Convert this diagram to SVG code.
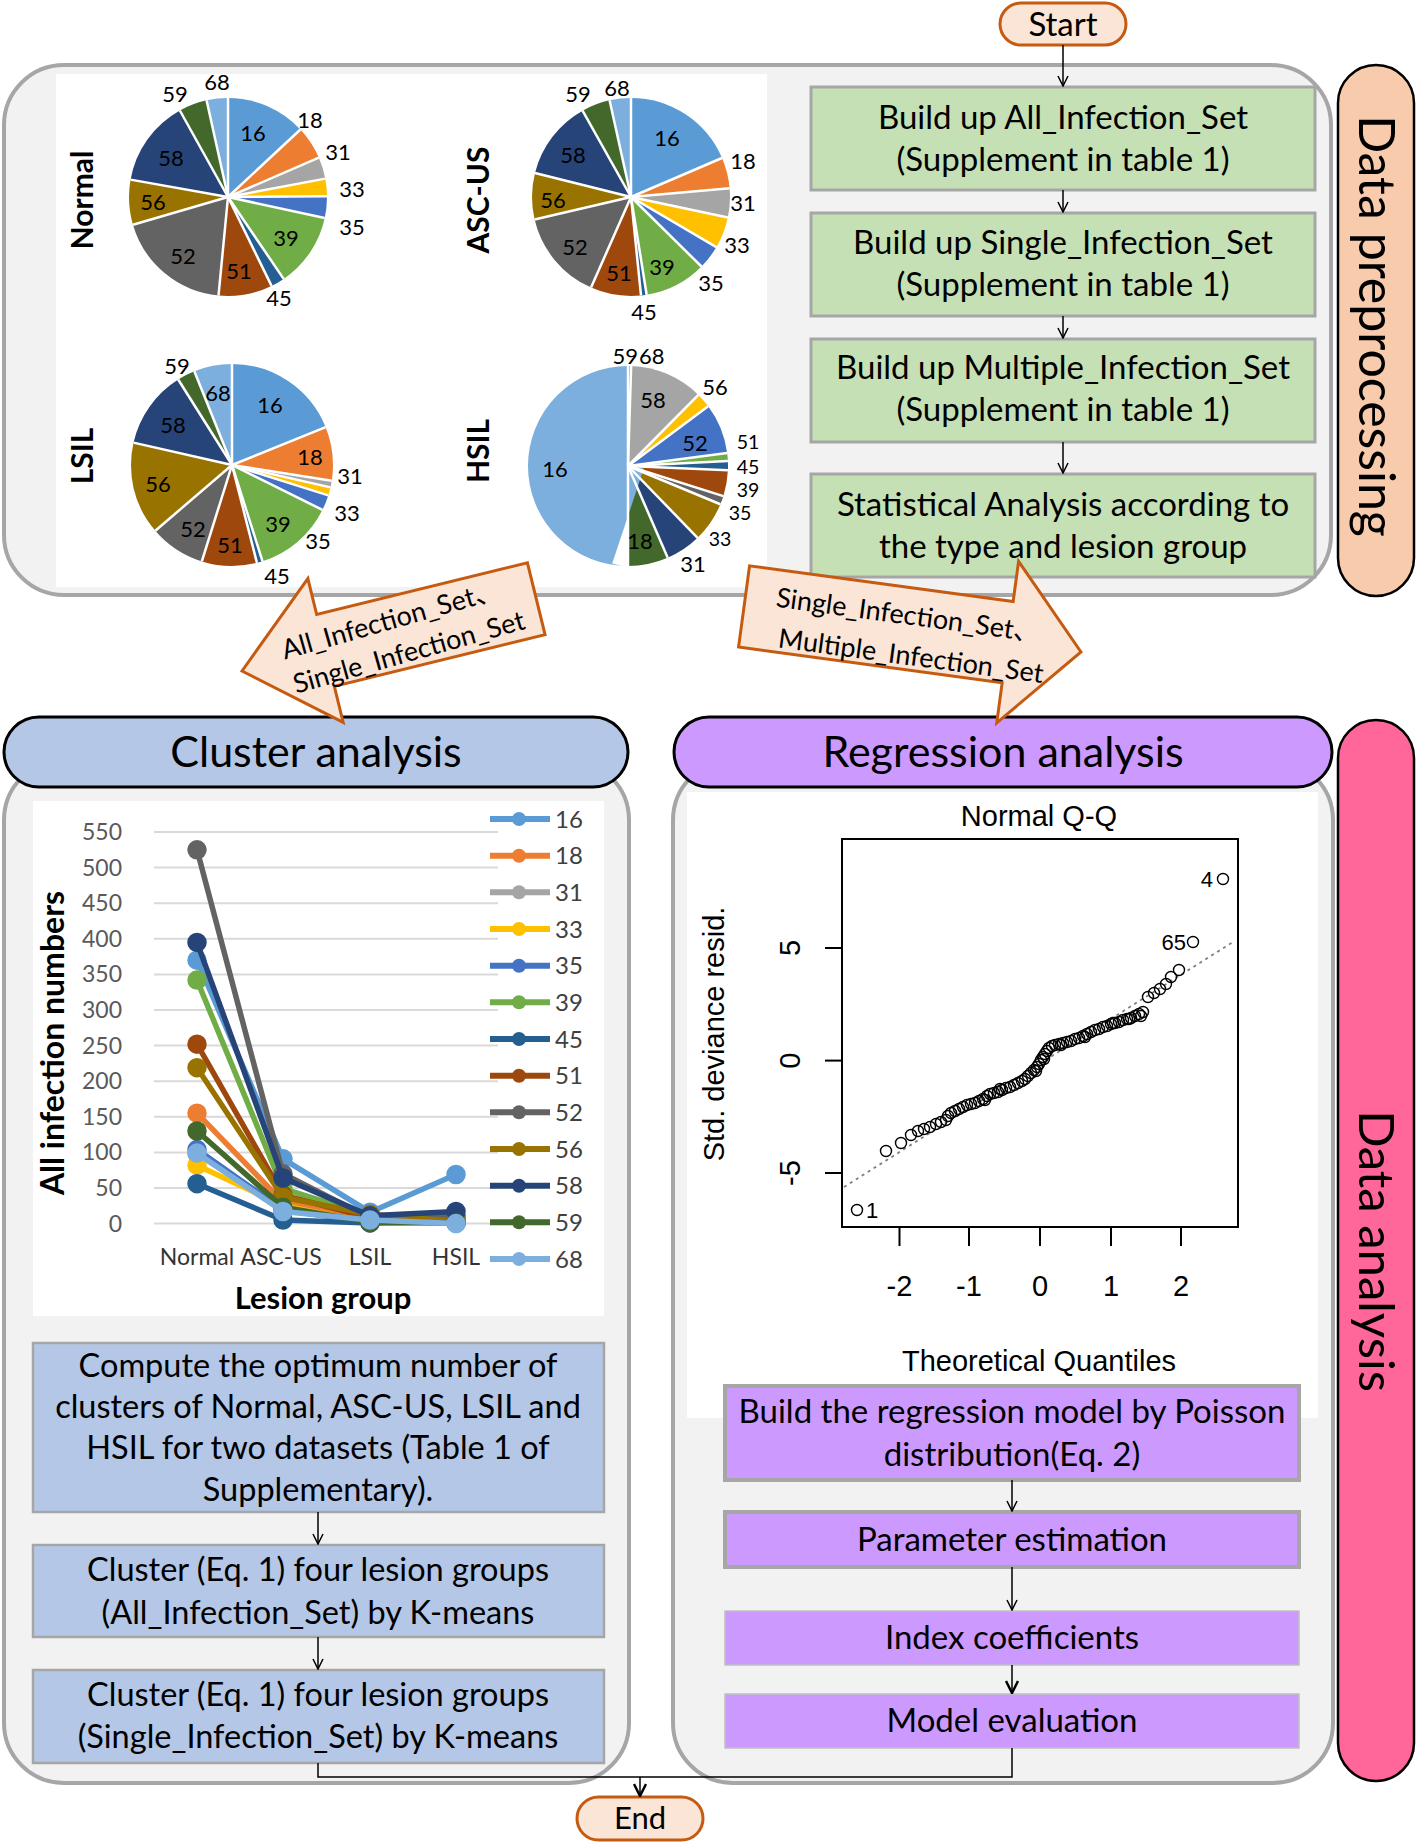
<svg xmlns="http://www.w3.org/2000/svg" width="1418" height="1844" viewBox="0 0 1418 1844">
<defs>
<style>
.t{font-family:Lato,"Noto Sans CJK SC","Noto Sans",sans-serif;fill:#000}
.a{font-family:"Liberation Sans",Arial,sans-serif;fill:#000}
.cont{fill:#f2f2f2;stroke:#a6a6a6;stroke-width:4}
.green{fill:#c5e0b4;stroke:#a6a6a6;stroke-width:3}
.blue{fill:#b4c7e7;stroke:#a6a6a6;stroke-width:2.5}
.purp{fill:#cc99ff;stroke:#a6a6a6;stroke-width:4}
.purp2{fill:#cc99ff;stroke:#c0c0c0;stroke-width:1.5}
.term{fill:#fbe5d6;stroke:#c55a11;stroke-width:3}
.blk{fill:#fbe5d6;stroke:#c55a11;stroke-width:3;stroke-linejoin:miter}
.sep{stroke:#fff;stroke-width:2.5}
.sl{fill:none}
.conn{fill:none;stroke:#000;stroke-width:1.5}
.grid{stroke:#d9d9d9;stroke-width:2}
.pt{fill:none;stroke:#000;stroke-width:1.4}
</style>
<marker id="ah" viewBox="0 0 12 12" markerWidth="12" markerHeight="12" refX="11" refY="6" orient="auto" markerUnits="userSpaceOnUse"><path d="M1,1 L11,6 L1,11" fill="none" stroke="#000" stroke-width="1.5"/></marker>
<marker id="ah2" viewBox="0 0 14 14" markerWidth="14" markerHeight="14" refX="13" refY="7" orient="auto" markerUnits="userSpaceOnUse"><path d="M1,1 L13,7 L1,13" fill="none" stroke="#000" stroke-width="2.5"/></marker>
</defs>
<rect width="1418" height="1844" fill="#fff"/>

<!-- Data preprocessing container -->
<g id="prep-container">
<rect class="cont" x="4" y="65" width="1327" height="530" rx="60"/>
<rect x="56" y="74" width="711" height="513" fill="#fff"/>
</g>

<!-- Pie charts -->
<g id="pie-normal">
<g transform="translate(228,197)" stroke-width="99">
<g transform="rotate(-90)">
<circle class="sl" r="49.5" pathLength="360" stroke="#5b9bd5" stroke-dasharray="47 360" stroke-dashoffset="0"/>
<circle class="sl" r="49.5" pathLength="360" stroke="#ed7d31" stroke-dasharray="19.6 360" stroke-dashoffset="-47"/>
<circle class="sl" r="49.5" pathLength="360" stroke="#a5a5a5" stroke-dasharray="12.7 360" stroke-dashoffset="-66.6"/>
<circle class="sl" r="49.5" pathLength="360" stroke="#ffc000" stroke-dasharray="10.3 360" stroke-dashoffset="-79.3"/>
<circle class="sl" r="49.5" pathLength="360" stroke="#4472c4" stroke-dasharray="12.7 360" stroke-dashoffset="-89.6"/>
<circle class="sl" r="49.5" pathLength="360" stroke="#70ad47" stroke-dasharray="43.5 360" stroke-dashoffset="-102.3"/>
<circle class="sl" r="49.5" pathLength="360" stroke="#255e91" stroke-dasharray="8.1 360" stroke-dashoffset="-145.8"/>
<circle class="sl" r="49.5" pathLength="360" stroke="#9e480e" stroke-dasharray="31.6 360" stroke-dashoffset="-153.9"/>
<circle class="sl" r="49.5" pathLength="360" stroke="#636363" stroke-dasharray="68.2 360" stroke-dashoffset="-185.5"/>
<circle class="sl" r="49.5" pathLength="360" stroke="#997300" stroke-dasharray="26.4 360" stroke-dashoffset="-253.7"/>
<circle class="sl" r="49.5" pathLength="360" stroke="#264478" stroke-dasharray="50.8 360" stroke-dashoffset="-280.1"/>
<circle class="sl" r="49.5" pathLength="360" stroke="#43682b" stroke-dasharray="16.6 360" stroke-dashoffset="-330.9"/>
<circle class="sl" r="49.5" pathLength="360" stroke="#7cafdd" stroke-dasharray="12.5 360" stroke-dashoffset="-347.5"/>
</g>
<g class="sep">
<line y2="-99"/><line y2="-99" transform="rotate(47)"/><line y2="-99" transform="rotate(66.6)"/><line y2="-99" transform="rotate(79.3)"/><line y2="-99" transform="rotate(89.6)"/><line y2="-99" transform="rotate(102.3)"/><line y2="-99" transform="rotate(145.8)"/><line y2="-99" transform="rotate(153.9)"/><line y2="-99" transform="rotate(185.5)"/><line y2="-99" transform="rotate(253.7)"/><line y2="-99" transform="rotate(280.1)"/><line y2="-99" transform="rotate(330.9)"/><line y2="-99" transform="rotate(347.5)"/>
</g>
</g>
<g class="t" font-size="22" text-anchor="middle">
<text x="253" y="141">16</text><text x="310" y="128">18</text><text x="338" y="160">31</text><text x="352" y="197">33</text><text x="352" y="235">35</text><text x="286" y="246">39</text><text x="279" y="306">45</text><text x="239" y="279">51</text><text x="183" y="264">52</text><text x="153" y="210">56</text><text x="171" y="166">58</text><text x="175" y="102">59</text><text x="217" y="90">68</text>
</g>
<text class="t" font-size="30" font-weight="bold" text-anchor="middle" transform="translate(82,200) rotate(-90)" dy="0.35em">Normal</text>
</g>

<g id="pie-ascus">
<g transform="translate(631,197)" stroke-width="99">
<g transform="rotate(-90)">
<circle class="sl" r="49.5" pathLength="360" stroke="#5b9bd5" stroke-dasharray="66.8 360" stroke-dashoffset="0"/>
<circle class="sl" r="49.5" pathLength="360" stroke="#ed7d31" stroke-dasharray="18.1 360" stroke-dashoffset="-66.8"/>
<circle class="sl" r="49.5" pathLength="360" stroke="#a5a5a5" stroke-dasharray="17 360" stroke-dashoffset="-84.9"/>
<circle class="sl" r="49.5" pathLength="360" stroke="#ffc000" stroke-dasharray="18.5 360" stroke-dashoffset="-101.9"/>
<circle class="sl" r="49.5" pathLength="360" stroke="#4472c4" stroke-dasharray="14.2 360" stroke-dashoffset="-120.4"/>
<circle class="sl" r="49.5" pathLength="360" stroke="#70ad47" stroke-dasharray="36.3 360" stroke-dashoffset="-134.6"/>
<circle class="sl" r="49.5" pathLength="360" stroke="#255e91" stroke-dasharray="3.3 360" stroke-dashoffset="-170.9"/>
<circle class="sl" r="49.5" pathLength="360" stroke="#9e480e" stroke-dasharray="29.6 360" stroke-dashoffset="-174.2"/>
<circle class="sl" r="49.5" pathLength="360" stroke="#636363" stroke-dasharray="53.1 360" stroke-dashoffset="-203.8"/>
<circle class="sl" r="49.5" pathLength="360" stroke="#997300" stroke-dasharray="27.1 360" stroke-dashoffset="-256.9"/>
<circle class="sl" r="49.5" pathLength="360" stroke="#264478" stroke-dasharray="46.7 360" stroke-dashoffset="-284"/>
<circle class="sl" r="49.5" pathLength="360" stroke="#43682b" stroke-dasharray="16.8 360" stroke-dashoffset="-330.7"/>
<circle class="sl" r="49.5" pathLength="360" stroke="#7cafdd" stroke-dasharray="12.5 360" stroke-dashoffset="-347.5"/>
</g>
<g class="sep">
<line y2="-99"/><line y2="-99" transform="rotate(66.8)"/><line y2="-99" transform="rotate(84.9)"/><line y2="-99" transform="rotate(101.9)"/><line y2="-99" transform="rotate(120.4)"/><line y2="-99" transform="rotate(134.6)"/><line y2="-99" transform="rotate(170.9)"/><line y2="-99" transform="rotate(174.2)"/><line y2="-99" transform="rotate(203.8)"/><line y2="-99" transform="rotate(256.9)"/><line y2="-99" transform="rotate(284)"/><line y2="-99" transform="rotate(330.7)"/><line y2="-99" transform="rotate(347.5)"/>
</g>
</g>
<g class="t" font-size="22" text-anchor="middle">
<text x="667" y="146">16</text><text x="743" y="169">18</text><text x="743" y="211">31</text><text x="737" y="253">33</text><text x="711" y="291">35</text><text x="662" y="275">39</text><text x="644" y="320">45</text><text x="619" y="281">51</text><text x="575" y="255">52</text><text x="553" y="208">56</text><text x="573" y="163">58</text><text x="578" y="102">59</text><text x="617" y="96">68</text>
</g>
<text class="t" font-size="30" font-weight="bold" text-anchor="middle" transform="translate(478,200) rotate(-90)" dy="0.35em">ASC-US</text>
</g>

<g id="pie-lsil">
<g transform="translate(232,465)" stroke-width="101">
<g transform="rotate(-90)">
<circle class="sl" r="50.5" pathLength="360" stroke="#5b9bd5" stroke-dasharray="68 360" stroke-dashoffset="0"/>
<circle class="sl" r="50.5" pathLength="360" stroke="#ed7d31" stroke-dasharray="31 360" stroke-dashoffset="-68"/>
<circle class="sl" r="50.5" pathLength="360" stroke="#a5a5a5" stroke-dasharray="3.8 360" stroke-dashoffset="-99"/>
<circle class="sl" r="50.5" pathLength="360" stroke="#ffc000" stroke-dasharray="4.7 360" stroke-dashoffset="-102.8"/>
<circle class="sl" r="50.5" pathLength="360" stroke="#4472c4" stroke-dasharray="8.9 360" stroke-dashoffset="-107.5"/>
<circle class="sl" r="50.5" pathLength="360" stroke="#70ad47" stroke-dasharray="46 360" stroke-dashoffset="-116.4"/>
<circle class="sl" r="50.5" pathLength="360" stroke="#255e91" stroke-dasharray="3.3 360" stroke-dashoffset="-162.4"/>
<circle class="sl" r="50.5" pathLength="360" stroke="#9e480e" stroke-dasharray="31.7 360" stroke-dashoffset="-165.7"/>
<circle class="sl" r="50.5" pathLength="360" stroke="#636363" stroke-dasharray="32 360" stroke-dashoffset="-197.4"/>
<circle class="sl" r="50.5" pathLength="360" stroke="#997300" stroke-dasharray="53.4 360" stroke-dashoffset="-229.4"/>
<circle class="sl" r="50.5" pathLength="360" stroke="#264478" stroke-dasharray="45 360" stroke-dashoffset="-282.8"/>
<circle class="sl" r="50.5" pathLength="360" stroke="#43682b" stroke-dasharray="10.3 360" stroke-dashoffset="-327.8"/>
<circle class="sl" r="50.5" pathLength="360" stroke="#7cafdd" stroke-dasharray="21.9 360" stroke-dashoffset="-338.1"/>
</g>
<g class="sep">
<line y2="-101"/><line y2="-101" transform="rotate(68)"/><line y2="-101" transform="rotate(99)"/><line y2="-101" transform="rotate(102.8)"/><line y2="-101" transform="rotate(107.5)"/><line y2="-101" transform="rotate(116.4)"/><line y2="-101" transform="rotate(162.4)"/><line y2="-101" transform="rotate(165.7)"/><line y2="-101" transform="rotate(197.4)"/><line y2="-101" transform="rotate(229.4)"/><line y2="-101" transform="rotate(282.8)"/><line y2="-101" transform="rotate(327.8)"/><line y2="-101" transform="rotate(338.1)"/>
</g>
</g>
<g class="t" font-size="22" text-anchor="middle">
<text x="270" y="413">16</text><text x="310" y="465">18</text><text x="350" y="484">31</text><text x="347" y="521">33</text><text x="318" y="549">35</text><text x="278" y="532">39</text><text x="277" y="584">45</text><text x="230" y="553">51</text><text x="193" y="537">52</text><text x="158" y="492">56</text><text x="173" y="433">58</text><text x="177" y="374">59</text><text x="218" y="401">68</text>
</g>
<text class="t" font-size="30" font-weight="bold" text-anchor="middle" transform="translate(82,456) rotate(-90)" dy="0.35em">LSIL</text>
</g>

<g id="pie-hsil">
<g transform="translate(628,466)" stroke-width="100">
<g transform="rotate(-90)">
<circle class="sl" r="50" pathLength="360" stroke="#ed7d31" stroke-dasharray="1.8 360" stroke-dashoffset="0"/>
<circle class="sl" r="50" pathLength="360" stroke="#a5a5a5" stroke-dasharray="42.9 360" stroke-dashoffset="-1.8"/>
<circle class="sl" r="50" pathLength="360" stroke="#ffc000" stroke-dasharray="8.6 360" stroke-dashoffset="-44.7"/>
<circle class="sl" r="50" pathLength="360" stroke="#4472c4" stroke-dasharray="29.2 360" stroke-dashoffset="-53.3"/>
<circle class="sl" r="50" pathLength="360" stroke="#70ad47" stroke-dasharray="4.6 360" stroke-dashoffset="-82.5"/>
<circle class="sl" r="50" pathLength="360" stroke="#255e91" stroke-dasharray="5.4 360" stroke-dashoffset="-87.1"/>
<circle class="sl" r="50" pathLength="360" stroke="#9e480e" stroke-dasharray="15 360" stroke-dashoffset="-92.5"/>
<circle class="sl" r="50" pathLength="360" stroke="#636363" stroke-dasharray="5 360" stroke-dashoffset="-107.5"/>
<circle class="sl" r="50" pathLength="360" stroke="#997300" stroke-dasharray="23.4 360" stroke-dashoffset="-112.5"/>
<circle class="sl" r="50" pathLength="360" stroke="#264478" stroke-dasharray="20.7 360" stroke-dashoffset="-135.9"/>
<circle class="sl" r="50" pathLength="360" stroke="#43682b" stroke-dasharray="23.4 360" stroke-dashoffset="-156.6"/>
<circle class="sl" r="50" pathLength="360" stroke="#7cafdd" stroke-dasharray="180 360" stroke-dashoffset="-180"/>
</g>
<g class="sep">
<line y2="-100"/><line y2="-100" transform="rotate(1.8)"/><line y2="-100" transform="rotate(44.7)"/><line y2="-100" transform="rotate(53.3)"/><line y2="-100" transform="rotate(82.5)"/><line y2="-100" transform="rotate(87.1)"/><line y2="-100" transform="rotate(92.5)"/><line y2="-100" transform="rotate(107.5)"/><line y2="-100" transform="rotate(112.5)"/><line y2="-100" transform="rotate(135.9)"/><line y2="-100" transform="rotate(156.6)"/><line y2="-100" transform="rotate(180)"/>
</g>
</g>
<g class="t" font-size="22" text-anchor="middle">
<text x="638" y="364" text-anchor="end">59</text><text x="639" y="364" text-anchor="start">68</text><text x="653" y="408">58</text><text x="715" y="395">56</text><text x="695" y="451">52</text><text x="693" y="572">31</text><text x="640" y="549">18</text><text x="555" y="477">16</text>
</g>
<g class="t" font-size="19.5" text-anchor="middle">
<text x="748" y="449">51</text><text x="748" y="474">45</text><text x="748" y="497">39</text><text x="740" y="520">35</text><text x="720" y="546">33</text>
</g>
<text class="t" font-size="30" font-weight="bold" text-anchor="middle" transform="translate(478,451) rotate(-90)" dy="0.35em">HSIL</text>
</g>

<!-- Start -->
<g id="start">
<rect class="term" x="1000" y="3" width="126" height="42" rx="21"/>
<text class="t" x="1063" y="36" font-size="33" text-anchor="middle">Start</text>
</g>

<!-- Green boxes -->
<g id="box-all">
<rect class="green" x="811" y="87" width="504" height="103"/>
<text class="t" font-size="33" text-anchor="middle"><tspan x="1063" y="129">Build up All_Infection_Set</tspan><tspan x="1063" y="171">(Supplement in table 1)</tspan></text>
</g>
<g id="box-single">
<rect class="green" x="811" y="213" width="504" height="103"/>
<text class="t" font-size="33" text-anchor="middle"><tspan x="1063" y="254">Build up Single_Infection_Set</tspan><tspan x="1063" y="296">(Supplement in table 1)</tspan></text>
</g>
<g id="box-multiple">
<rect class="green" x="811" y="339" width="504" height="103"/>
<text class="t" font-size="33" text-anchor="middle"><tspan x="1063" y="379">Build up Multiple_Infection_Set</tspan><tspan x="1063" y="421">(Supplement in table 1)</tspan></text>
</g>
<g id="box-stat">
<rect class="green" x="811" y="474" width="504" height="103"/>
<text class="t" font-size="33" text-anchor="middle"><tspan x="1063" y="516">Statistical Analysis according to</tspan><tspan x="1063" y="558">the type and lesion group</tspan></text>
</g>

<!-- Side labels -->
<g id="label-prep">
<rect x="1338" y="65" width="76" height="531" rx="38" fill="#f8cbad" stroke="#000" stroke-width="2.5"/>
<text class="t" font-size="50" text-anchor="middle" transform="translate(1376,326) rotate(90)" dy="0.35em">Data preprocessing</text>
</g>
<g id="label-analysis">
<rect x="1338" y="720" width="76" height="1061" rx="38" fill="#ff6699" stroke="#000" stroke-width="2.5"/>
<text class="t" font-size="49" text-anchor="middle" transform="translate(1376,1251) rotate(90)" dy="0.35em">Data analysis</text>
</g>

<!-- Cluster analysis section -->
<g id="cluster-container">
<rect class="cont" x="4" y="760" width="625" height="1023" rx="60"/>
<rect x="33" y="801" width="571" height="515" fill="#fff"/>
</g>
<g id="cluster-pill">
<rect x="4" y="717" width="624" height="70" rx="35" fill="#b4c7e7" stroke="#000" stroke-width="3"/>
<text class="t" x="316" y="767" font-size="43" text-anchor="middle">Cluster analysis</text>
</g>

<g id="line-chart">
<g class="grid">
<line x1="154" x2="498" y1="1223.6" y2="1223.6"/><line x1="154" x2="498" y1="1188" y2="1188"/><line x1="154" x2="498" y1="1152.4" y2="1152.4"/><line x1="154" x2="498" y1="1116.8" y2="1116.8"/><line x1="154" x2="498" y1="1081.2" y2="1081.2"/><line x1="154" x2="498" y1="1045.6" y2="1045.6"/><line x1="154" x2="498" y1="1010" y2="1010"/><line x1="154" x2="498" y1="974.4" y2="974.4"/><line x1="154" x2="498" y1="938.8" y2="938.8"/><line x1="154" x2="498" y1="903.2" y2="903.2"/><line x1="154" x2="498" y1="867.6" y2="867.6"/><line x1="154" x2="498" y1="832" y2="832"/>
</g>
<g class="t" font-size="23" text-anchor="end" style="fill:#595959">
<text x="122" y="1231.6">0</text><text x="122" y="1196">50</text><text x="122" y="1160.4">100</text><text x="122" y="1124.8">150</text><text x="122" y="1089.2">200</text><text x="122" y="1053.6">250</text><text x="122" y="1018">300</text><text x="122" y="982.4">350</text><text x="122" y="946.8">400</text><text x="122" y="911.2">450</text><text x="122" y="875.6">500</text><text x="122" y="840">550</text>
</g>
<g class="t" font-size="23" text-anchor="middle" style="fill:#333">
<text x="197" y="1265">Normal</text><text x="281" y="1265">ASC-US</text><text x="370" y="1265">LSIL</text><text x="456" y="1265">HSIL</text>
</g>
<text class="t" x="323" y="1309" font-size="31" font-weight="bold" text-anchor="middle">Lesion group</text>
<text class="t" font-size="32" font-weight="bold" text-anchor="middle" transform="translate(53,1043) rotate(-90)" dy="0.35em">All infection numbers</text>
<g stroke-width="5.5" stroke-linejoin="round">
<g stroke="#5b9bd5" fill="#5b9bd5"><polyline fill="none" points="197,960.2 283,1158.8 370,1212.2 456,1174.5"/><circle cx="197" cy="960.2" r="7"/><circle cx="283" cy="1158.8" r="7"/><circle cx="370" cy="1212.2" r="7"/><circle cx="456" cy="1174.5" r="7"/></g>
<g stroke="#ed7d31" fill="#ed7d31"><polyline fill="none" points="197,1113.2 283,1202.2 370,1218.6 456,1222.9"/><circle cx="197" cy="1113.2" r="7"/><circle cx="283" cy="1202.2" r="7"/><circle cx="370" cy="1218.6" r="7"/><circle cx="456" cy="1222.9" r="7"/></g>
<g stroke="#a5a5a5" fill="#a5a5a5"><polyline fill="none" points="197,1153.8 283,1207.2 370,1222.9 456,1217.9"/><circle cx="197" cy="1153.8" r="7"/><circle cx="283" cy="1207.2" r="7"/><circle cx="370" cy="1222.9" r="7"/><circle cx="456" cy="1217.9" r="7"/></g>
<g stroke="#ffc000" fill="#ffc000"><polyline fill="none" points="197,1165.2 283,1205.8 370,1222.9 456,1217.2"/><circle cx="197" cy="1165.2" r="7"/><circle cx="283" cy="1205.8" r="7"/><circle cx="370" cy="1222.9" r="7"/><circle cx="456" cy="1217.2" r="7"/></g>
<g stroke="#4472c4" fill="#4472c4"><polyline fill="none" points="197,1149.6 283,1210.1 370,1222.2 456,1222.2"/><circle cx="197" cy="1149.6" r="7"/><circle cx="283" cy="1210.1" r="7"/><circle cx="370" cy="1222.2" r="7"/><circle cx="456" cy="1222.2" r="7"/></g>
<g stroke="#70ad47" fill="#70ad47"><polyline fill="none" points="197,980.1 283,1188.7 370,1215.8 456,1219.3"/><circle cx="197" cy="980.1" r="7"/><circle cx="283" cy="1188.7" r="7"/><circle cx="370" cy="1215.8" r="7"/><circle cx="456" cy="1219.3" r="7"/></g>
<g stroke="#255e91" fill="#255e91"><polyline fill="none" points="197,1183.7 283,1220 370,1222.9 456,1222.2"/><circle cx="197" cy="1183.7" r="7"/><circle cx="283" cy="1220" r="7"/><circle cx="370" cy="1222.9" r="7"/><circle cx="456" cy="1222.2" r="7"/></g>
<g stroke="#9e480e" fill="#9e480e"><polyline fill="none" points="197,1044.2 283,1195.1 370,1217.9 456,1222.2"/><circle cx="197" cy="1044.2" r="7"/><circle cx="283" cy="1195.1" r="7"/><circle cx="370" cy="1217.9" r="7"/><circle cx="456" cy="1222.2" r="7"/></g>
<g stroke="#636363" fill="#636363"><polyline fill="none" points="197,849.8 283,1173.8 370,1217.9 456,1215.8"/><circle cx="197" cy="849.8" r="7"/><circle cx="283" cy="1173.8" r="7"/><circle cx="370" cy="1217.9" r="7"/><circle cx="456" cy="1215.8" r="7"/></g>
<g stroke="#997300" fill="#997300"><polyline fill="none" points="197,1067.7 283,1197.3 370,1214.3 456,1221.5"/><circle cx="197" cy="1067.7" r="7"/><circle cx="283" cy="1197.3" r="7"/><circle cx="370" cy="1214.3" r="7"/><circle cx="456" cy="1221.5" r="7"/></g>
<g stroke="#264478" fill="#264478"><polyline fill="none" points="197,942.4 283,1178 370,1215.8 456,1211.5"/><circle cx="197" cy="942.4" r="7"/><circle cx="283" cy="1178" r="7"/><circle cx="370" cy="1215.8" r="7"/><circle cx="456" cy="1211.5" r="7"/></g>
<g stroke="#43682b" fill="#43682b"><polyline fill="none" points="197,1131 283,1207.2 370,1222.2 456,1222.9"/><circle cx="197" cy="1131" r="7"/><circle cx="283" cy="1207.2" r="7"/><circle cx="370" cy="1222.2" r="7"/><circle cx="456" cy="1222.9" r="7"/></g>
<g stroke="#7cafdd" fill="#7cafdd"><polyline fill="none" points="197,1153.1 283,1211.5 370,1220 456,1223.6"/><circle cx="197" cy="1153.1" r="7"/><circle cx="283" cy="1211.5" r="7"/><circle cx="370" cy="1220" r="7"/><circle cx="456" cy="1223.6" r="7"/></g>
</g>
<g id="legend" stroke-width="6">
<g stroke="#5b9bd5" fill="#5b9bd5"><line x1="490" x2="550" y1="819" y2="819"/><circle cx="519" cy="819" r="7" stroke="none"/></g>
<g stroke="#ed7d31" fill="#ed7d31"><line x1="490" x2="550" y1="855.7" y2="855.7"/><circle cx="519" cy="855.7" r="7" stroke="none"/></g>
<g stroke="#a5a5a5" fill="#a5a5a5"><line x1="490" x2="550" y1="892.3" y2="892.3"/><circle cx="519" cy="892.3" r="7" stroke="none"/></g>
<g stroke="#ffc000" fill="#ffc000"><line x1="490" x2="550" y1="929" y2="929"/><circle cx="519" cy="929" r="7" stroke="none"/></g>
<g stroke="#4472c4" fill="#4472c4"><line x1="490" x2="550" y1="965.7" y2="965.7"/><circle cx="519" cy="965.7" r="7" stroke="none"/></g>
<g stroke="#70ad47" fill="#70ad47"><line x1="490" x2="550" y1="1002.3" y2="1002.3"/><circle cx="519" cy="1002.3" r="7" stroke="none"/></g>
<g stroke="#255e91" fill="#255e91"><line x1="490" x2="550" y1="1039" y2="1039"/><circle cx="519" cy="1039" r="7" stroke="none"/></g>
<g stroke="#9e480e" fill="#9e480e"><line x1="490" x2="550" y1="1075.7" y2="1075.7"/><circle cx="519" cy="1075.7" r="7" stroke="none"/></g>
<g stroke="#636363" fill="#636363"><line x1="490" x2="550" y1="1112.3" y2="1112.3"/><circle cx="519" cy="1112.3" r="7" stroke="none"/></g>
<g stroke="#997300" fill="#997300"><line x1="490" x2="550" y1="1149" y2="1149"/><circle cx="519" cy="1149" r="7" stroke="none"/></g>
<g stroke="#264478" fill="#264478"><line x1="490" x2="550" y1="1185.7" y2="1185.7"/><circle cx="519" cy="1185.7" r="7" stroke="none"/></g>
<g stroke="#43682b" fill="#43682b"><line x1="490" x2="550" y1="1222.3" y2="1222.3"/><circle cx="519" cy="1222.3" r="7" stroke="none"/></g>
<g stroke="#7cafdd" fill="#7cafdd"><line x1="490" x2="550" y1="1259" y2="1259"/><circle cx="519" cy="1259" r="7" stroke="none"/></g>
<g class="t" font-size="24" stroke="none" style="fill:#404040">
<text x="555" y="827.5">16</text><text x="555" y="864.2">18</text><text x="555" y="900.8">31</text><text x="555" y="937.5">33</text><text x="555" y="974.2">35</text><text x="555" y="1010.8">39</text><text x="555" y="1047.5">45</text><text x="555" y="1084.2">51</text><text x="555" y="1120.8">52</text><text x="555" y="1157.5">56</text><text x="555" y="1194.2">58</text><text x="555" y="1230.8">59</text><text x="555" y="1267.5">68</text>
</g>
</g>
</g>

<g id="box-compute">
<rect class="blue" x="33" y="1343" width="571" height="169"/>
<text class="t" font-size="32.5" text-anchor="middle"><tspan x="318" y="1377">Compute the optimum number of</tspan><tspan x="318" y="1418">clusters of Normal, ASC-US, LSIL and</tspan><tspan x="318" y="1459">HSIL for two datasets (Table 1 of</tspan><tspan x="318" y="1501">Supplementary).</tspan></text>
</g>
<g id="box-cluster-all">
<rect class="blue" x="33" y="1545" width="571" height="92"/>
<text class="t" font-size="32.5" text-anchor="middle"><tspan x="318" y="1581">Cluster (Eq. 1) four lesion groups</tspan><tspan x="318" y="1624">(All_Infection_Set) by K-means</tspan></text>
</g>
<g id="box-cluster-single">
<rect class="blue" x="33" y="1670" width="571" height="93"/>
<text class="t" font-size="32.5" text-anchor="middle"><tspan x="318" y="1706">Cluster (Eq. 1) four lesion groups</tspan><tspan x="318" y="1748">(Single_Infection_Set) by K-means</tspan></text>
</g>

<!-- Regression analysis section -->
<g id="regression-container">
<rect class="cont" x="673" y="760" width="660" height="1023" rx="60"/>
<rect x="687" y="792" width="631" height="626" fill="#fff"/>
</g>
<g id="regression-pill">
<rect x="674" y="717" width="658" height="70" rx="35" fill="#cc99ff" stroke="#000" stroke-width="3"/>
<text class="t" x="1003" y="767" font-size="43" text-anchor="middle">Regression analysis</text>
</g>

<g id="qq-plot">
<text class="a" x="1039" y="826" font-size="29" text-anchor="middle">Normal Q-Q</text>
<rect x="842" y="839" width="396" height="388" fill="none" stroke="#000" stroke-width="2"/>
<g stroke="#000" stroke-width="2">
<line x1="899.5" x2="899.5" y1="1227" y2="1246"/><line x1="969" x2="969" y1="1227" y2="1246"/><line x1="1040" x2="1040" y1="1227" y2="1246"/><line x1="1111" x2="1111" y1="1227" y2="1246"/><line x1="1181" x2="1181" y1="1227" y2="1246"/>
<line x1="825" x2="842" y1="948" y2="948"/><line x1="825" x2="842" y1="1060.6" y2="1060.6"/><line x1="825" x2="842" y1="1173" y2="1173"/>
</g>
<g class="a" font-size="29" text-anchor="middle">
<text x="899.5" y="1296">-2</text><text x="969" y="1296">-1</text><text x="1040" y="1296">0</text><text x="1111" y="1296">1</text><text x="1181" y="1296">2</text>
<text transform="translate(790,948) rotate(-90)" dy="0.35em">5</text>
<text transform="translate(790,1060.6) rotate(-90)" dy="0.35em">0</text>
<text transform="translate(790,1173) rotate(-90)" dy="0.35em">-5</text>
</g>
<text class="a" font-size="29" text-anchor="middle" transform="translate(714,1034) rotate(-90)" dy="0.35em">Std. deviance resid.</text>
<text class="a" x="1039" y="1371" font-size="29" text-anchor="middle">Theoretical Quantiles</text>
<line x1="844" y1="1187" x2="1233" y2="942" stroke="#7f7f7f" stroke-width="1.8" stroke-dasharray="3 4"/>
<g class="pt">
<circle cx="886" cy="1151" r="5.5"/><circle cx="901" cy="1143" r="5.5"/><circle cx="911" cy="1135" r="5.5"/><circle cx="918" cy="1131" r="5.5"/><circle cx="924" cy="1129" r="5.5"/><circle cx="930" cy="1127" r="5.5"/><circle cx="936" cy="1124" r="5.5"/><circle cx="941" cy="1122" r="5.5"/><circle cx="946" cy="1120" r="5.5"/><circle cx="948" cy="1116" r="5.5"/>
<circle cx="951" cy="1113" r="5.5"/><circle cx="955" cy="1111" r="5.5"/><circle cx="959" cy="1109" r="5.5"/><circle cx="963" cy="1107" r="5.5"/><circle cx="967" cy="1105" r="5.5"/><circle cx="971" cy="1104" r="5.5"/><circle cx="975" cy="1103" r="5.5"/><circle cx="979" cy="1101" r="5.5"/><circle cx="983" cy="1099" r="5.5"/><circle cx="985" cy="1100" r="5.5"/>
<circle cx="987" cy="1096" r="5.5"/><circle cx="990" cy="1094" r="5.5"/><circle cx="994" cy="1093" r="5.5"/><circle cx="998" cy="1092" r="5.5"/><circle cx="1000" cy="1089" r="5.5"/><circle cx="1002" cy="1090" r="5.5"/><circle cx="1006" cy="1088" r="5.5"/><circle cx="1010" cy="1087" r="5.5"/><circle cx="1014" cy="1085" r="5.5"/><circle cx="1018" cy="1083" r="5.5"/>
<circle cx="1022" cy="1081" r="5.5"/><circle cx="1025" cy="1079" r="5.5"/><circle cx="1028" cy="1076" r="5.5"/><circle cx="1031" cy="1073" r="5.5"/><circle cx="1034" cy="1070" r="5.5"/><circle cx="1036" cy="1071" r="5.5"/><circle cx="1037" cy="1067" r="5.5"/><circle cx="1039" cy="1064" r="5.5"/><circle cx="1041" cy="1060" r="5.5"/><circle cx="1043" cy="1057" r="5.5"/>
<circle cx="1044" cy="1059" r="5.5"/><circle cx="1045" cy="1054" r="5.5"/><circle cx="1047" cy="1051" r="5.5"/><circle cx="1049" cy="1048" r="5.5"/><circle cx="1052" cy="1046" r="5.5"/><circle cx="1055" cy="1045" r="5.5"/><circle cx="1059" cy="1044" r="5.5"/><circle cx="1061" cy="1045" r="5.5"/><circle cx="1063" cy="1043" r="5.5"/><circle cx="1067" cy="1042" r="5.5"/>
<circle cx="1071" cy="1041" r="5.5"/><circle cx="1075" cy="1039" r="5.5"/><circle cx="1079" cy="1038" r="5.5"/><circle cx="1083" cy="1036" r="5.5"/><circle cx="1085" cy="1037" r="5.5"/><circle cx="1087" cy="1034" r="5.5"/><circle cx="1091" cy="1032" r="5.5"/><circle cx="1095" cy="1030" r="5.5"/><circle cx="1099" cy="1029" r="5.5"/><circle cx="1103" cy="1027" r="5.5"/>
<circle cx="1107" cy="1026" r="5.5"/><circle cx="1111" cy="1024" r="5.5"/><circle cx="1113" cy="1023" r="5.5"/><circle cx="1115" cy="1023" r="5.5"/><circle cx="1119" cy="1022" r="5.5"/><circle cx="1123" cy="1020" r="5.5"/><circle cx="1127" cy="1019" r="5.5"/><circle cx="1129" cy="1019" r="5.5"/><circle cx="1131" cy="1018" r="5.5"/><circle cx="1135" cy="1016" r="5.5"/>
<circle cx="1139" cy="1014" r="5.5"/><circle cx="1141" cy="1016" r="5.5"/><circle cx="1143" cy="1012" r="5.5"/><circle cx="1148" cy="997" r="5.5"/><circle cx="1154" cy="993" r="5.5"/><circle cx="1160" cy="989" r="5.5"/><circle cx="1166" cy="984" r="5.5"/><circle cx="1171" cy="977" r="5.5"/><circle cx="1179" cy="970" r="5.5"/>
<circle cx="857" cy="1210" r="5.5"/><circle cx="1193" cy="942" r="5.5"/><circle cx="1223" cy="879" r="5.5"/>
</g>
<g class="a" font-size="22">
<text x="866" y="1218">1</text>
<text x="1213" y="887" text-anchor="end">4</text>
<text x="1186" y="950" text-anchor="end">65</text>
</g>
</g>

<g id="box-poisson">
<rect class="purp" x="725" y="1386" width="574" height="94"/>
<text class="t" font-size="33" text-anchor="middle"><tspan x="1012" y="1423">Build the regression model by Poisson</tspan><tspan x="1012" y="1466">distribution(Eq. 2)</tspan></text>
</g>
<g id="box-param">
<rect class="purp" x="725" y="1512" width="574" height="55"/>
<text class="t" x="1012" y="1551" font-size="33" text-anchor="middle">Parameter estimation</text>
</g>
<g id="box-index">
<rect class="purp2" x="725" y="1611" width="574" height="54"/>
<text class="t" x="1012" y="1649" font-size="33" text-anchor="middle">Index coefficients</text>
</g>
<g id="box-eval">
<rect class="purp2" x="725" y="1694" width="574" height="54"/>
<text class="t" x="1012" y="1732" font-size="33" text-anchor="middle">Model evaluation</text>
</g>

<!-- End -->
<g id="end">
<rect class="term" x="577" y="1797" width="126" height="43" rx="21.5"/>
<text class="t" x="640" y="1829" font-size="31" text-anchor="middle">End</text>
</g>

<!-- Connectors -->
<g id="connectors">
<line class="conn" x1="1063" y1="45" x2="1063" y2="86" marker-end="url(#ah)"/>
<line class="conn" x1="1063" y1="190" x2="1063" y2="212" marker-end="url(#ah)"/>
<line class="conn" x1="1063" y1="316" x2="1063" y2="338" marker-end="url(#ah)"/>
<line class="conn" x1="1063" y1="442" x2="1063" y2="473" marker-end="url(#ah)"/>
<line class="conn" x1="318" y1="1512" x2="318" y2="1544" marker-end="url(#ah)"/>
<line class="conn" x1="318" y1="1637" x2="318" y2="1669" marker-end="url(#ah)"/>
<line class="conn" x1="1012" y1="1480" x2="1012" y2="1511" marker-end="url(#ah)"/>
<line class="conn" x1="1012" y1="1567" x2="1012" y2="1610" marker-end="url(#ah)"/>
<line class="conn" x1="1012" y1="1665" x2="1012" y2="1693" stroke-width="2.2" marker-end="url(#ah2)"/>
<polyline class="conn" stroke-width="3" points="318,1763 318,1777 1012,1777 1012,1748"/>
<line class="conn" x1="640" y1="1777" x2="640" y2="1796" stroke-width="2.5" marker-end="url(#ah2)"/>
</g>

<!-- Block arrows -->
<g id="arrow-to-cluster" transform="translate(242,671) rotate(-13.8)">
<polygon class="blk" points="0,0 86,-74 86,-37 303,-37 303,37 86,37 86,74"/>
<g class="t" font-size="27" text-anchor="middle" transform="rotate(-2 160 8)">
<text x="158" y="-5">All_Infection_Set、</text>
<text x="166" y="31">Single_Infection_Set</text>
</g>
</g>
<g id="arrow-to-regression" transform="translate(1081,652) rotate(7.7)">
<polygon class="blk" points="0,0 -74,-81.5 -74,-41 -340,-41 -340,41 -74,41 -74,81.5"/>
<g class="t" font-size="27" text-anchor="middle">
<text x="-176" y="-4">Single_Infection_Set、</text>
<text x="-168" y="36">Multiple_Infection_Set</text>
</g>
</g>
</svg>
